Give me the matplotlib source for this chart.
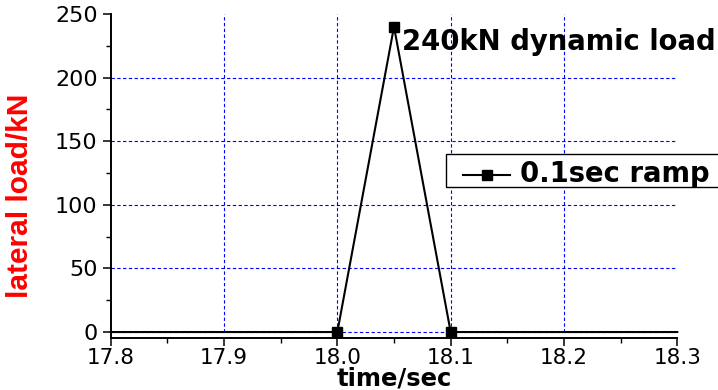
import matplotlib
matplotlib.use("Agg")
import matplotlib.pyplot as plt
from matplotlib.lines import Line2D
from matplotlib.patches import Rectangle
from matplotlib.ticker import MultipleLocator
from matplotlib import font_manager

# ---- data ----
time_sec = [17.8, 18.0, 18.05, 18.1, 18.3]
load_kN = [0, 0, 240, 0, 0]
marker_idx = [1, 2, 3]
series_label = "0.1sec ramp"
x_ticks = [17.8, 17.9, 18.0, 18.1, 18.2, 18.3]
x_tick_labels = ["17.8", "17.9", "18.0", "18.1", "18.2", "18.3"]
y_ticks = [0, 50, 100, 150, 200, 250]
peak_label = f"{max(load_kN)}kN dynamic load"

W, H = 718, 390
fig = plt.figure(figsize=(W / 100, H / 100), dpi=100)
fig.patch.set_facecolor("white")

def fx(px):
    return px / W

def fy(py):
    return 1 - py / H

available = {f.name for f in font_manager.fontManager.ttflist}
narrow = None
for cand in ["Liberation Sans Narrow", "DejaVu Sans Condensed", "Arial Narrow", "Liberation Sans"]:
    if cand in available:
        narrow = cand
        break
if narrow is None:
    narrow = "DejaVu Sans"
ylabel_size = 26 if narrow in ("Liberation Sans Narrow", "Arial Narrow") else (24 if narrow == "DejaVu Sans Condensed" else 21.5)
if narrow == "DejaVu Sans":
    ylabel_size = 17

ax = fig.add_axes([fx(110.7), fy(338), fx(677.3) - fx(110.7), fy(14) - fy(338)])
ax.set_xlim(17.8, 18.3)
ax.set_ylim(-4.7, 250)

# grid
for gx in x_ticks[1:-1]:
    ax.plot([gx, gx], [0, 250], color="#0000FF", lw=0.8, dashes=(3, 2.2), zorder=1)
for gy in y_ticks[:-1]:
    ax.plot([x_ticks[0], x_ticks[-1]], [gy, gy], color="#0000FF", lw=0.8, dashes=(3, 2.2), zorder=1)

ax.plot(time_sec, load_kN, color="black", lw=1.5, marker="s", markersize=6.5,
        markevery=marker_idx, markerfacecolor="black", markeredgecolor="black",
        zorder=3, clip_on=False)

for s in ["top", "right"]:
    ax.spines[s].set_visible(False)
for s in ["left", "bottom"]:
    ax.spines[s].set_linewidth(1.4)
    ax.spines[s].set_color("black")

ax.set_xticks(x_ticks)
ax.set_xticklabels(x_tick_labels)
ax.set_yticks(y_ticks)
ax.xaxis.set_minor_locator(MultipleLocator(0.05))
ax.yaxis.set_minor_locator(MultipleLocator(25))
ax.tick_params(which="major", direction="out", length=6, width=1.1, labelsize=16, pad=3.5)
ax.tick_params(which="minor", direction="out", length=3.5, width=1.0)
ax.tick_params(axis="x", which="major", labelsize=15.5, pad=1.2)
for lab in ax.get_xticklabels() + ax.get_yticklabels():
    lab.set_fontfamily("DejaVu Sans")

ax.set_xlabel("time/sec", fontsize=17.5, fontweight="bold", family="DejaVu Sans")
ax.xaxis.label.set_va("baseline")
ax.xaxis.set_label_coords(0.5, (338 - 385) / 324)
ax.set_ylabel("lateral load/kN", fontsize=ylabel_size, fontweight="bold", color="#FF0000",
              family=[narrow, "DejaVu Sans"])
ax.yaxis.set_label_coords(-0.135, 0.44)

ax.text(18.057, 222, peak_label, fontsize=19.8, fontweight="bold",
        family="DejaVu Sans", va="baseline", ha="left", clip_on=False, zorder=4)

# legend box (manual, partially beyond figure edge)
fig.patches.append(Rectangle((fx(446), fy(187)), fx(730) - fx(446), fy(154) - fy(187),
                             transform=fig.transFigure, fill=True, facecolor="white",
                             edgecolor="black", lw=1.0, zorder=5))
fig.lines.append(Line2D([fx(463), fx(510)], [fy(175), fy(175)], transform=fig.transFigure,
                        color="black", lw=1.5, zorder=6))
fig.lines.append(Line2D([fx(487)], [fy(175)], transform=fig.transFigure, color="black",
                        marker="s", markersize=6.5, zorder=6))
fig.text(fx(520), fy(182), series_label, fontsize=19.8, fontweight="bold",
         family="DejaVu Sans", va="baseline", ha="left", zorder=7)

fig.savefig("out.png", dpi=100)
